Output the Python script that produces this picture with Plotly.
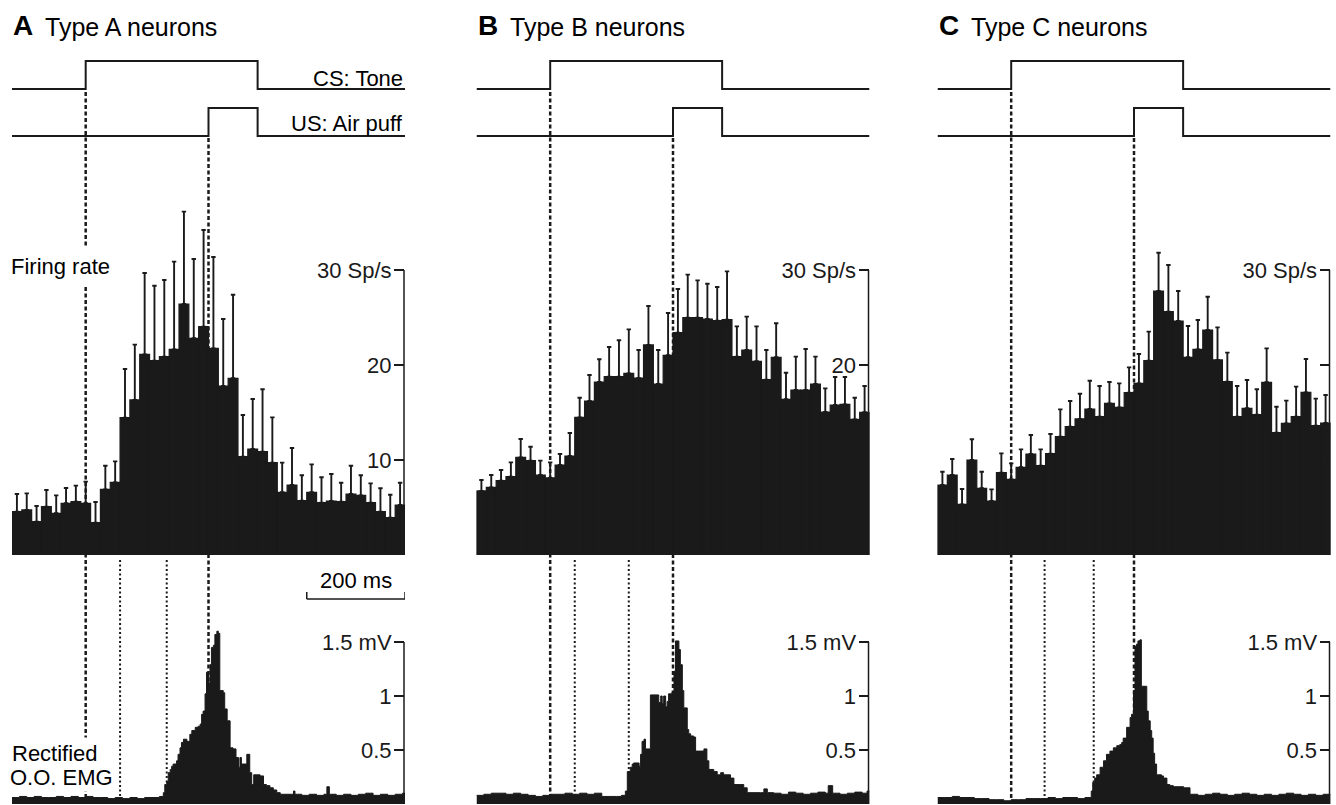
import plotly.graph_objects as go

W, H = 1336, 805
FONT = "Liberation Sans, Arial, Helvetica, sans-serif"
INK = "#1a1a1a"

# ---------------- data ----------------
panel_letters = ["A", "B", "C"]
panel_titles = ["Type A neurons", "Type B neurons", "Type C neurons"]

t_start, t_end, bin_ms = -150, 650, 20   # ms relative to CS onset
cs_on, us_on = 0, 250

cs_t = [-150, 0, 0, 350, 350, 650]
cs_v = [0, 0, 1, 1, 0, 0]
us_t = [-150, 250, 250, 350, 350, 650]
us_v = [0, 0, 1, 1, 0, 0]

rate_a = [4.56, 4.74, 3.51, 5.09, 4.39, 5.44, 5.61, 5.44, 3.40, 6.91, 7.65, 14.46, 16.32, 21.12, 20.46, 20.88,
          21.65, 26.42, 22.81, 24.04, 21.75, 17.79, 18.60, 10.35, 11.16, 10.88, 9.72, 6.60, 7.37, 5.72, 6.60,
          5.51, 5.68, 5.61, 6.42, 6.28, 5.51, 4.56, 3.93, 5.26]
sem_a = [1.86, 1.75, 1.65, 1.75, 1.89, 1.61, 1.69, 2.28, 2.18, 2.49, 2.21, 5.12, 5.82, 8.56, 7.89, 8.07, 9.23,
         9.72, 8.35, 10.17, 9.62, 7.05, 8.80, 4.39, 5.26, 6.56, 4.77, 3.12, 3.89, 2.67, 2.94, 2.67, 2.85, 2.00,
         2.98, 2.11, 2.03, 2.46, 2.42, 2.35]

rate_b = [6.74, 7.12, 7.82, 8.25, 10.28, 9.93, 8.42, 8.11, 9.47, 10.42, 14.49, 16.21, 18.21, 18.77, 18.77, 19.12,
          18.63, 22.11, 18.00, 21.02, 23.40, 24.98, 24.98, 24.84, 24.67, 24.77, 20.88, 21.58, 20.39, 18.46, 20.81,
          16.39, 17.37, 17.37, 18.00, 15.05, 15.79, 15.86, 14.28, 15.02]
sem_b = [1.15, 1.30, 1.13, 1.50, 1.93, 1.47, 1.51, 1.64, 1.16, 2.42, 2.07, 2.74, 2.39, 3.12, 3.83, 4.63, 2.95,
         4.10, 3.58, 4.45, 4.60, 4.53, 3.93, 3.72, 3.54, 5.09, 3.19, 3.51, 3.68, 3.12, 3.58, 2.80, 3.51, 4.31,
         2.88, 2.49, 2.95, 2.88, 2.28, 2.77]

rate_c = [7.37, 8.42, 5.33, 10.00, 7.02, 5.68, 8.67, 7.96, 9.23, 10.63, 9.40, 10.67, 12.46, 13.51, 14.32, 15.37,
          14.56, 15.96, 15.54, 17.09, 18.07, 20.46, 27.79, 25.61, 24.63, 20.81, 21.65, 23.68, 20.53, 18.25, 14.56,
          15.44, 14.77, 18.18, 12.88, 13.86, 14.56, 17.12, 13.61, 13.89]
sem_c = [1.40, 1.69, 1.62, 2.18, 1.75, 1.23, 2.03, 1.69, 1.89, 2.00, 1.72, 2.07, 2.87, 2.70, 2.66, 2.98, 3.23,
         2.25, 2.53, 2.66, 3.09, 3.05, 4.03, 4.92, 3.16, 3.30, 3.09, 3.51, 3.43, 3.05, 3.23, 2.98, 2.67, 3.57,
         2.73, 2.39, 3.16, 3.51, 2.85, 2.95]

emg_a_t = [-150, -135, -120, -105, -90, -75, -60, -45, -30, -15, 0, 15, 30, 45, 60, 75, 90, 105, 120, 135, 150,
           158, 161, 165, 168, 172, 175, 178, 185, 188, 192, 195, 199, 206, 212, 216, 223, 229, 233, 236, 239, 243,
           246, 250, 253, 256, 260, 263, 267, 270, 273, 280, 283, 288, 294, 300, 306, 311, 314, 317, 324, 328, 334,
           338, 342, 355, 362, 368, 375, 382, 389, 396, 423, 426, 440, 455, 470, 485, 491, 496, 510, 525, 540, 555,
           570, 585, 600, 615, 630, 645, 650]
emg_a_v = [0.06, 0.07, 0.06, 0.07, 0.06, 0.06, 0.07, 0.06, 0.07, 0.06, 0.07, 0.06, 0.06, 0.05, 0.06, 0.05, 0.06,
           0.05, 0.06, 0.06, 0.07,
           0.105, 0.18, 0.21, 0.29, 0.32, 0.35, 0.37, 0.40, 0.46, 0.52, 0.57, 0.60, 0.58, 0.645, 0.68, 0.71, 0.72,
           0.74, 0.83, 0.86, 1.02, 1.22, 1.12, 1.29, 1.45, 1.47, 1.57, 1.60, 1.58, 1.05, 1.03, 0.88, 0.77, 0.52,
           0.51, 0.43, 0.34, 0.43, 0.37, 0.37, 0.46, 0.29, 0.18, 0.27, 0.26, 0.18, 0.17, 0.15, 0.13, 0.105, 0.09,
           0.12, 0.09, 0.08, 0.09, 0.08, 0.09, 0.16, 0.09, 0.08, 0.09, 0.08, 0.09, 0.10, 0.08, 0.09, 0.08, 0.09,
           0.10, 0.10]

emg_b_t = [-150, -135, -120, -105, -90, -75, -60, -45, -30, -15, 0, 15, 30, 45, 60, 75, 90, 105, 120, 135, 145,
           153, 157, 163, 167, 170, 181, 184, 187, 191, 194, 204, 221, 225, 228, 231, 235, 238, 241, 248, 252, 255,
           259, 262, 265, 269, 272, 279, 282, 286, 292, 296, 302, 313, 319, 323, 333, 340, 347, 353, 360, 367, 374,
           388, 394, 401, 428, 435, 442, 455, 470, 485, 500, 515, 530, 545, 560, 566, 575, 590, 605, 620, 635, 645,
           650]
emg_b_v = [0.08, 0.09, 0.10, 0.10, 0.09, 0.10, 0.09, 0.08, 0.07, 0.08, 0.09, 0.09, 0.10, 0.09, 0.10, 0.09, 0.10,
           0.07, 0.07, 0.07, 0.08,
           0.12, 0.30, 0.34, 0.37, 0.38, 0.35, 0.46, 0.58, 0.60, 0.51, 1.01, 0.94, 1.00, 0.93, 1.00, 0.90, 0.95,
           1.02, 1.04, 1.23, 1.51, 1.51, 1.43, 1.29, 1.05, 0.89, 0.69, 0.65, 0.63, 0.62, 0.49, 0.49, 0.51, 0.40,
           0.32, 0.30, 0.27, 0.29, 0.27, 0.27, 0.24, 0.18, 0.18, 0.15, 0.105, 0.105, 0.14, 0.105, 0.10, 0.09, 0.11,
           0.10, 0.09, 0.10, 0.11, 0.10, 0.17, 0.10, 0.09, 0.10, 0.11, 0.10, 0.12, 0.12]

emg_c_t = [-150, -135, -120, -105, -90, -75, -60, -45, -30, -15, 0, 15, 30, 45, 60, 75, 90, 105, 120, 135, 150,
           163, 166, 170, 174, 181, 188, 194, 201, 208, 215, 221, 225, 228, 235, 242, 245, 249, 252, 255, 258, 262,
           265, 276, 279, 283, 286, 289, 292, 296, 306, 310, 317, 323, 330, 351, 364, 380, 395, 410, 425, 440, 455,
           470, 485, 500, 515, 530, 545, 560, 575, 590, 605, 620, 635, 650]
emg_c_v = [0.06, 0.06, 0.07, 0.06, 0.06, 0.05, 0.05, 0.04, 0.04, 0.03, 0.04, 0.04, 0.05, 0.05, 0.05, 0.06, 0.05,
           0.06, 0.06, 0.05, 0.06,
           0.12, 0.20, 0.24, 0.27, 0.34, 0.40, 0.46, 0.49, 0.52, 0.54, 0.55, 0.57, 0.61, 0.71, 0.80, 0.83, 1.05,
           1.46, 1.48, 1.51, 1.52, 1.09, 0.86, 0.77, 0.68, 0.61, 0.47, 0.37, 0.27, 0.26, 0.24, 0.18, 0.17, 0.16,
           0.15, 0.09, 0.08, 0.09, 0.10, 0.09, 0.08, 0.09, 0.10, 0.09, 0.08, 0.09, 0.08, 0.09, 0.10, 0.09, 0.08,
           0.09, 0.08, 0.09, 0.09]

emg_dotted = [[70, 165], [50, 160], [68, 168]]

rates = [rate_a, rate_b, rate_c]
sems = [sem_a, sem_b, sem_c]
emg_t = [emg_a_t, emg_b_t, emg_c_t]
emg_v = [emg_a_v, emg_b_v, emg_c_v]

rate_ticks = [10, 20, 30]
rate_tick_text = [["10", "20", "30 Sp/s"], ["10", "20", "30 Sp/s"], ["10", "", "30 Sp/s"]]
emg_ticks = [0.5, 1, 1.5]
emg_tick_text = ["0.5", "1", "1.5 mV"]
scale_bar_ms = [450, 650]

# ---------------- layout geometry (pixels) ----------------
panel_left = [12, 476.5, 937.5]
panel_w = 393
stim_dom = (54, 150)      # py top, bottom
stim_px_per_unit = 28
stim_zero_py = 136
cs_offset = 1.68
hist_dom = (180, 555)
hist_px_per_unit = 9.5
emg_dom = (560, 804)
emg_px_per_unit = 108
LABEL_SIZE = 22


def fx(px):
    return px / W


def fy(py):
    return 1 - py / H


fig = go.Figure()
layout = {}
shapes = []
ann = []

bin_centers = [t_start + bin_ms / 2 + bin_ms * k for k in range(len(rate_a))]


def ax(n):
    return ("x" if n == 1 else f"x{n}"), ("y" if n == 1 else f"y{n}")


def key(n, a):
    return a + ("axis" if n == 1 else f"axis{n}")


for i in range(3):
    L = panel_left[i]
    R = L + panel_w
    n_stim, n_hist, n_emg = 3 * i + 1, 3 * i + 2, 3 * i + 3

    for n in (n_stim, n_hist, n_emg):
        layout[key(n, "x")] = dict(domain=[fx(L), fx(R)], range=[t_start, t_end], visible=False,
                                   anchor=ax(n)[1], fixedrange=True)

    # stimulus traces
    s_lo = -(stim_dom[1] - stim_zero_py) / stim_px_per_unit
    s_hi = (stim_zero_py - stim_dom[0]) / stim_px_per_unit
    layout[key(n_stim, "y")] = dict(domain=[fy(stim_dom[1]), fy(stim_dom[0])], range=[s_lo, s_hi],
                                    visible=False, anchor=ax(n_stim)[0])
    xs, ys = ax(n_stim)
    fig.add_trace(go.Scatter(x=cs_t, y=[v + cs_offset for v in cs_v], mode="lines",
                             line=dict(color=INK, width=2), xaxis=xs, yaxis=ys, hoverinfo="skip"))
    fig.add_trace(go.Scatter(x=us_t, y=us_v, mode="lines",
                             line=dict(color=INK, width=2), xaxis=xs, yaxis=ys, hoverinfo="skip"))

    # histogram
    h_hi = (hist_dom[1] - hist_dom[0]) / hist_px_per_unit
    layout[key(n_hist, "y")] = dict(domain=[fy(hist_dom[1]), fy(hist_dom[0])], range=[0, h_hi],
                                    anchor="free", position=fx(R - 1), side="left",
                                    tickvals=rate_ticks, ticktext=rate_tick_text[i],
                                    ticks="outside", ticklen=10, tickwidth=1.5, tickcolor=INK,
                                    showline=False, showgrid=False, zeroline=False, automargin=False,
                                    tickfont=dict(family=FONT, size=LABEL_SIZE, color=INK),
                                    layer="below traces", ticklabelstandoff=-2)
    xs, ys = ax(n_hist)
    fig.add_trace(go.Bar(x=bin_centers, y=rates[i], width=bin_ms, xaxis=xs, yaxis=ys,
                         marker=dict(color=INK, line=dict(color=INK, width=1.2)),
                         error_y=dict(type="data", array=sems[i], arrayminus=[0] * len(sems[i]),
                                      symmetric=False, color=INK, thickness=1.9, width=2.2),
                         hoverinfo="skip"))
    shapes.append(dict(type="line", xref="paper", yref=ys, x0=fx(R - 1), x1=fx(R - 1), y0=0, y1=30,
                       line=dict(color=INK, width=1.5), layer="below"))

    # EMG
    e_hi = (emg_dom[1] - emg_dom[0]) / emg_px_per_unit
    layout[key(n_emg, "y")] = dict(domain=[fy(emg_dom[1]), fy(emg_dom[0])], range=[0, e_hi],
                                   anchor="free", position=fx(R - 1), side="left",
                                   tickvals=emg_ticks, ticktext=emg_tick_text,
                                   ticks="outside", ticklen=10, tickwidth=1.5, tickcolor=INK,
                                   showline=False, showgrid=False, zeroline=False, automargin=False,
                                   tickfont=dict(family=FONT, size=LABEL_SIZE, color=INK),
                                   layer="below traces", ticklabelstandoff=-2)
    xs, ys = ax(n_emg)
    fig.add_trace(go.Scatter(x=emg_t[i], y=emg_v[i], mode="lines", line=dict(color=INK, width=1, shape="hv"),
                             fill="tozeroy", fillcolor=INK, xaxis=xs, yaxis=ys, hoverinfo="skip"))
    shapes.append(dict(type="line", xref="paper", yref=ys, x0=fx(R - 1), x1=fx(R - 1), y0=0, y1=1.5,
                       line=dict(color=INK, width=1.5), layer="below"))

    # vertical event lines
    xh = ax(n_hist)[0]
    shapes.append(dict(type="line", xref=xh, yref="paper", x0=cs_on, x1=cs_on, y0=fy(92), y1=fy(804),
                       line=dict(color=INK, width=2.5, dash="4px,2.5px"), layer="below"))
    shapes.append(dict(type="line", xref=xh, yref="paper", x0=us_on, x1=us_on, y0=fy(138), y1=fy(804),
                       line=dict(color=INK, width=2.5, dash="4px,2.5px"), layer="below"))
    for td in emg_dotted[i]:
        shapes.append(dict(type="line", xref=xh, yref="paper", x0=td, x1=td, y0=fy(560), y1=fy(804),
                           line=dict(color=INK, width=2, dash="2px,2.5px"), layer="below"))

    # titles
    ann.append(dict(text=f"<b>{panel_letters[i]}</b>", x=fx(L - 1), y=fy(26), xref="paper", yref="paper",
                    xanchor="left", yanchor="middle", showarrow=False,
                    font=dict(family=FONT, size=28, color="#000")))
    ann.append(dict(text=panel_titles[i], x=fx(L + 31), y=fy(27), xref="paper", yref="paper",
                    xanchor="left", yanchor="middle", showarrow=False,
                    font=dict(family=FONT, size=25, color="#000")))

# texts only in panel A
R0 = panel_left[0] + panel_w
txt = dict(family=FONT, size=LABEL_SIZE, color="#000")
ann.append(dict(text="CS: Tone", x=fx(R0), y=fy(78), xref="paper", yref="paper", xanchor="right",
                yanchor="middle", showarrow=False, font=txt))
ann.append(dict(text="US: Air puff", x=fx(R0), y=fy(124), xref="paper", yref="paper", xanchor="right",
                yanchor="middle", showarrow=False, font=txt))
ann.append(dict(text="Firing rate", x=fx(4), y=fy(266), xref="paper", yref="paper", xanchor="left",
                yanchor="middle", showarrow=False, font=txt, bgcolor="white", borderpad=6))
ann.append(dict(text="Rectified", x=fx(8), y=fy(753), xref="paper", yref="paper", xanchor="left",
                yanchor="middle", showarrow=False, font=txt, bgcolor="white", borderpad=3))
ann.append(dict(text="O.O. EMG", x=fx(8), y=fy(777), xref="paper", yref="paper", xanchor="left",
                yanchor="middle", showarrow=False, font=txt, bgcolor="white", borderpad=1))
ann.append(dict(text="200 ms", x=(scale_bar_ms[0] + scale_bar_ms[1]) / 2, xref="x2", y=fy(580), yref="paper",
                xanchor="center", yanchor="middle", showarrow=False, font=txt))
# 200 ms scale bar
sb = dict(color=INK, width=1.5)
shapes.append(dict(type="line", xref="x2", yref="paper", x0=scale_bar_ms[0], x1=scale_bar_ms[1],
                   y0=fy(599), y1=fy(599), line=sb))
shapes.append(dict(type="line", xref="x2", yref="paper", x0=scale_bar_ms[0], x1=scale_bar_ms[0],
                   y0=fy(599), y1=fy(592), line=sb))
shapes.append(dict(type="line", xref="x2", yref="paper", x0=scale_bar_ms[1], x1=scale_bar_ms[1],
                   y0=fy(599), y1=fy(592), line=sb))

fig.update_layout(**layout)
fig.update_layout(width=W, height=H, autosize=False,
                  margin=dict(l=0, r=0, t=0, b=0, pad=0, autoexpand=False),
                  paper_bgcolor="white", plot_bgcolor="rgba(0,0,0,0)", showlegend=False,
                  barmode="overlay", shapes=shapes, annotations=ann,
                  font=dict(family=FONT, color=INK))

fig.write_html("out.html", config={"displayModeBar": False},
               post_script="document.body.style.margin='0px';document.body.style.overflow='hidden';")
